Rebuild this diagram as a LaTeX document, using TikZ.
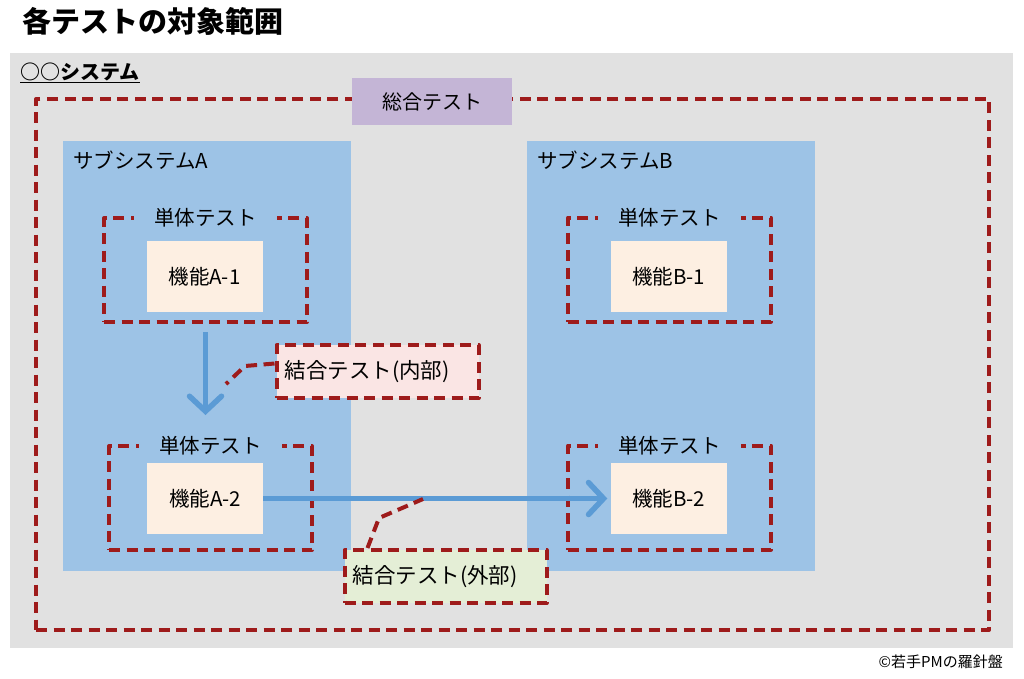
\documentclass[tikz,border=0pt]{standalone}
\usepackage{fontspec}
\setmainfont{Noto Sans CJK JP}
\usetikzlibrary{arrows.meta,calc}
\definecolor{bggray}{HTML}{E1E1E1}
\definecolor{dred}{HTML}{9E1B1B}
\definecolor{subblue}{HTML}{9DC3E6}
\definecolor{lav}{HTML}{C4B5D6}
\definecolor{func}{HTML}{FDEFE2}
\definecolor{pinkf}{HTML}{FAE5E4}
\definecolor{greenf}{HTML}{E4EED6}
\definecolor{arrblue}{HTML}{5B9BD5}
\tikzset{
  fs/.style={font=\fontsize{#1}{#1}\selectfont},
  reddash/.style={draw=dred, line width=4pt, dash pattern=on 11pt off 6.5pt, line join=round},
  subsys/.style={fill=subblue, draw=none, minimum width=288pt, minimum height=430pt, inner sep=0pt},
  unitbox/.style={reddash, minimum width=203pt, minimum height=104pt, inner sep=0pt},
  funcbox/.style={fill=func, draw=none, minimum width=116pt, minimum height=71pt, inner sep=0pt, fs=20.5},
  unitlabel/.style={fill=subblue, inner xsep=20pt, inner ysep=2pt, fs=20.5, yshift=-2pt},
  joinbox/.style={reddash, minimum width=202pt, minimum height=53pt, inner sep=0pt},
  jointext/.style={anchor=west, inner sep=0pt, fs=21.5},
  bluearrow/.style={draw=arrblue, line width=5.5pt, -{Straight Barb[length=15pt,width=32pt,line cap=round]}},
  callout/.style={draw=dred, line width=4pt, dash pattern=on 11pt off 6.5pt, line join=round},
}
\begin{document}
\begin{tikzpicture}[x=1pt,y=-1pt]
\useasboundingbox (0,0) rectangle (1024,678);
% title
\node[anchor=west, font=\bfseries\fontsize{29}{29}\selectfont] (title) at (19,21) {各テストの対象範囲};
% background
\node[fill=bggray, draw=none, minimum width=1003pt, minimum height=595pt, inner sep=0pt] (bg) at (511.5,350.5) {};
\node[anchor=west, font=\bfseries\fontsize{20}{20}\selectfont, inner sep=0pt] (sysname) at (20,73) {\underline{○○システム}};
% outer dashed rect
\node[reddash, minimum width=953pt, minimum height=531pt, inner sep=0pt] (outer) at (512.5,364.5) {};
\node[fill=lav, minimum width=160pt, minimum height=47pt, inner sep=0pt, fs=20] (sogo) at (432,101.5) {総合テスト};
% subsystems
\node[subsys] (subA) at (207,356) {};
\node[subsys] (subB) at (671,356) {};
\node[anchor=west, fs=20.5, inner sep=0pt] (subAlbl) at (73,160) {サブシステムA};
\node[anchor=west, fs=20.5, inner sep=0pt] (subBlbl) at (537,160) {サブシステムB};
% unit test boxes
\node[unitbox] (utA1) at (205.5,270) {};
\node[unitbox] (utA2) at (210.5,498) {};
\node[unitbox] (utB1) at (669.5,269.5) {};
\node[unitbox] (utB2) at (669.5,497.5) {};
\node[unitlabel] (lA1) at (utA1.north) {単体テスト};
\node[unitlabel] (lA2) at (utA2.north) {単体テスト};
\node[unitlabel] (lB1) at (utB1.north) {単体テスト};
\node[unitlabel] (lB2) at (utB2.north) {単体テスト};
% function boxes
\node[funcbox] (fA1) at (204.5,276.5) {機能A-1};
\node[funcbox] (fA2) at (205,498.5) {機能A-2};
\node[funcbox] (fB1) at (668.5,276.5) {機能B-1};
\node[funcbox] (fB2) at (668.5,498.5) {機能B-2};
% arrows
\draw[bluearrow] ([yshift=-8pt]utA1.south) -- (utA1.south |- 0,415);
\draw[bluearrow] (fA2.east) -- ([xshift=-3pt]fB2.west);
% join test boxes
\node[joinbox, fill=pinkf] (ci) at (377.5,371.5) {};
\node[jointext] (citext) at ([xshift=10pt]ci.west) {結合テスト(内部)};
\node[joinbox, fill=greenf] (co) at (445.5,576.5) {};
\node[jointext] (cotext) at ([xshift=10pt]co.west) {結合テスト(外部)};
\coordinate (ciA) at (245,366);
\coordinate (ciB) at (226,384);
\draw[callout] ([yshift=8pt]ci.west) -- (ciA) -- (ciB);
\coordinate (coA) at (379,518);
\coordinate (coB) at (423,499);
\draw[callout] ([xshift=-78pt]co.north) -- (coA) -- (coB);
% copyright
\node[anchor=east, fs=15, inner sep=0pt] (copy) at (1003,662) {©若手PMの羅針盤};
\end{tikzpicture}
\end{document}
